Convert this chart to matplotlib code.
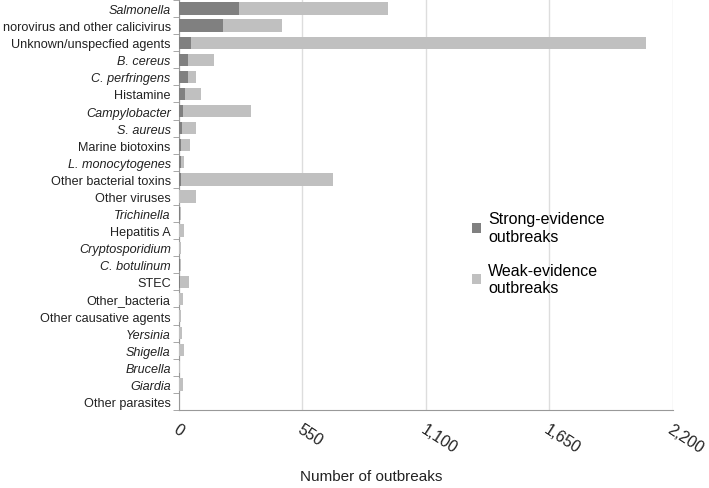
import matplotlib.pyplot as plt
import numpy as np

# agents, top to bottom
agents = ['Salmonella', 'norovirus and other calicivirus', 'Unknown/unspecfied agents',
          'B. cereus', 'C. perfringens', 'Histamine', 'Campylobacter', 'S. aureus',
          'Marine biotoxins', 'L. monocytogenes', 'Other bacterial toxins', 'Other viruses',
          'Trichinella', 'Hepatitis A', 'Cryptosporidium', 'C. botulinum', 'STEC',
          'Other_bacteria', 'Other causative agents', 'Yersinia', 'Shigella', 'Brucella',
          'Giardia', 'Other parasites']
italic = ['Salmonella', 'B. cereus', 'C. perfringens', 'Campylobacter', 'S. aureus',
          'L. monocytogenes', 'Trichinella', 'Cryptosporidium', 'C. botulinum',
          'Yersinia', 'Shigella', 'Brucella', 'Giardia']

strong = [266, 196, 54, 38, 38, 25, 17, 14, 10, 7, 10, 2,
          3, 2, 2, 6, 3, 2, 2, 2, 2, 2, 1, 1]
weak = [663, 265, 2027, 118, 36, 72, 303, 60, 40, 14, 678, 72,
        4, 19, 8, 4, 40, 15, 5, 12, 19, 1, 15, 1]

plt.rcParams['font.family'] = ['Liberation Sans', 'DejaVu Sans']

fig = plt.figure(figsize=(7.09, 4.89), dpi=100)
ax = fig.add_axes([0.2525, 0.1595, 0.949 - 0.2525, 0.998 - 0.1595])

y = np.arange(len(agents))
ax.barh(y, strong, height=0.72, color='#808080', label='Strong-evidence\noutbreaks', zorder=3)
ax.barh(y, weak, left=strong, height=0.72, color='#c0c0c0', label='Weak-evidence\noutbreaks', zorder=3)

ax.set_ylim(len(agents) - 0.5, -0.5)
ax.set_xlim(0, 2200)
ax.set_xticks([0, 550, 1100, 1650, 2200])
ax.set_xticklabels(['0', '550', '1,100', '1,650', '2,200'], rotation=-33,
                   ha='left', va='top', rotation_mode='anchor', fontsize=11.5, color='#222222')
ax.tick_params(axis='x', length=0, pad=8)
ax.xaxis.grid(True, color='#dddddd', linewidth=1, zorder=0)

ax.set_yticks(y)
ax.set_yticklabels(agents, fontsize=9.1, color='#222222')
for lab in ax.get_yticklabels():
    if lab.get_text() in italic:
        lab.set_style('italic')
ax.tick_params(axis='y', length=0, pad=6)
ax.set_yticks(np.arange(-0.5, len(agents)), minor=True)
ax.tick_params(axis='y', which='minor', length=4, color='#999999')

for s in ['top', 'right']:
    ax.spines[s].set_visible(False)
ax.spines['left'].set_color('#999999')
ax.spines['bottom'].set_color('#999999')

ax.set_xlabel('Number of outbreaks', fontsize=11, color='#222222')
ax.xaxis.set_label_coords(0.39, -0.145)

ax.legend(loc='upper left', bbox_to_anchor=(0.565, 0.52), frameon=False, fontsize=11.5,
          handlelength=0.55, handleheight=0.55, handletextpad=0.45, labelspacing=1.2)

fig.savefig('out.png', dpi=100)
